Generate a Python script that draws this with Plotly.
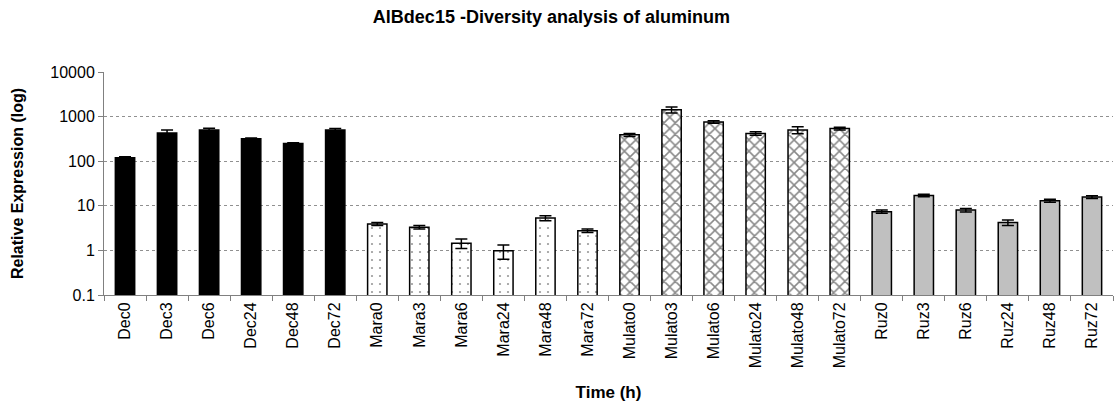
import plotly.graph_objects as go

# Sample labels (cultivar + hours of aluminum exposure)
dec_labels = ["Dec0", "Dec3", "Dec6", "Dec24", "Dec48", "Dec72"]
mara_labels = ["Mara0", "Mara3", "Mara6", "Mara24", "Mara48", "Mara72"]
mulato_labels = ["Mulato0", "Mulato3", "Mulato6", "Mulato24", "Mulato48", "Mulato72"]
ruz_labels = ["Ruz0", "Ruz3", "Ruz6", "Ruz24", "Ruz48", "Ruz72"]

# Relative expression values and their error
dec_values = [120, 430, 500, 320, 250, 500]
dec_err = [6, 70, 50, 12, 10, 40]
mara_values = [3.9, 3.3, 1.45, 0.98, 5.3, 2.77]
mara_err = [0.3, 0.3, 0.35, 0.35, 0.7, 0.25]
mulato_values = [390, 1430, 757, 420, 500, 540]
mulato_err = [30, 220, 50, 40, 90, 40]
ruz_values = [7.4, 17, 8, 4.2, 13, 15.7]
ruz_err = [0.6, 1.1, 0.7, 0.6, 1.0, 1.1]

y_ticks = [0.1, 1, 10, 100, 1000, 10000]
y_tick_text = ["0.1", "1", "10", "100", "1000", "10000"]

categories = dec_labels + mara_labels + mulato_labels + ruz_labels

BAR_W = 0.46
err_style = dict(type="data", visible=True, color="black", thickness=1.5, width=6)

fig = go.Figure()

fig.add_trace(go.Bar(
    x=dec_labels, y=dec_values, width=BAR_W,
    error_y=dict(array=dec_err, **err_style),
    marker=dict(color="black", line=dict(color="black", width=1.5)),
))
fig.add_trace(go.Bar(
    x=mara_labels, y=mara_values, width=BAR_W,
    error_y=dict(array=mara_err, **err_style),
    marker=dict(color="white", line=dict(color="black", width=1.5),
                pattern=dict(shape=".", fgcolor="#333333", bgcolor="white",
                             size=8, solidity=0.06, fillmode="overlay")),
))
fig.add_trace(go.Bar(
    x=mulato_labels, y=mulato_values, width=BAR_W,
    error_y=dict(array=mulato_err, **err_style),
    marker=dict(color="white", line=dict(color="black", width=1.5),
                pattern=dict(shape="x", fgcolor="#111111", bgcolor="white",
                             size=8, solidity=0.35, fillmode="overlay")),
))
fig.add_trace(go.Bar(
    x=ruz_labels, y=ruz_values, width=BAR_W,
    error_y=dict(array=ruz_err, **err_style),
    marker=dict(color="#c0c0c0", line=dict(color="black", width=1.5)),
))

fig.update_layout(
    width=1114, height=406,
    margin=dict(l=104, r=1, t=72, b=111),
    paper_bgcolor="white", plot_bgcolor="white",
    showlegend=False,
    barmode="overlay",
    font=dict(family="Arial, Liberation Sans, sans-serif", color="black"),
    title=dict(
        text="<b>AlBdec15 -Diversity analysis of aluminum</b>",
        x=0.495, xanchor="center", xref="container",
        y=1 - 17 / 406, yanchor="middle", yref="container",
        font=dict(size=18, color="black"),
    ),
    xaxis=dict(
        categoryorder="array", categoryarray=categories,
        tickangle=-90, tickfont=dict(size=16),
        tickson="boundaries", ticks="outside", ticklen=5, tickcolor="#808080",
        showline=True, linecolor="#808080", linewidth=1,
        showgrid=False,
        title=dict(text="<b>Time (h)</b>", font=dict(size=17), standoff=18),
    ),
    yaxis=dict(
        type="log", range=[-1, 4],
        tickvals=y_ticks, ticktext=y_tick_text, tickfont=dict(size=16),
        ticks="outside", ticklen=5, tickcolor="#808080",
        showline=True, linecolor="#808080", linewidth=1,
        showgrid=True, gridcolor="#909090", griddash="dot", gridwidth=1,
        zeroline=False,
        title=dict(text="<b>Relative Expression (log)</b>", font=dict(size=16), standoff=22),
    ),
)

fig.write_html("out.html")
